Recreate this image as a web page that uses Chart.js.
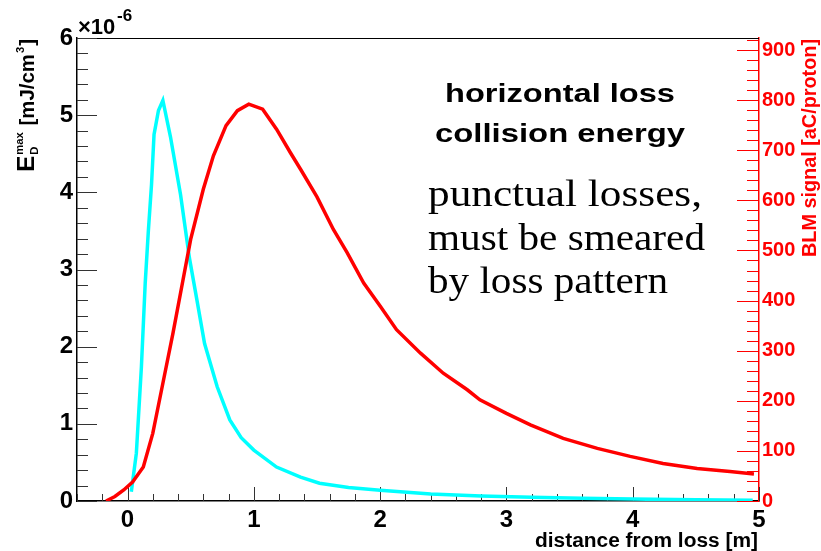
<!DOCTYPE html>
<html>
<head>
<meta charset="utf-8">
<script src="https://cdn.jsdelivr.net/npm/chart.js@4.4.0/dist/chart.umd.min.js"></script>
<style>
  html, body { margin: 0; padding: 0; background: #fff; }
  #wrap { width: 821px; height: 551px; }
</style>
</head>
<body>
<div id="wrap"><canvas id="c" width="821" height="551"></canvas></div>
<script>
// energy deposition (left axis, x 1e-6 mJ/cm3)
const cyanX = [0.03, 0.07, 0.11, 0.14, 0.165, 0.19, 0.21, 0.245, 0.28, 0.34, 0.42, 0.49, 0.55, 0.61, 0.71, 0.81, 0.9, 1.0, 1.18, 1.37, 1.52, 1.75, 2.0, 2.4, 2.8, 3.2, 3.6, 4.0, 4.5, 4.95];
const cyanY = [0.12, 0.62, 1.74, 2.82, 3.5, 4.1, 4.75, 5.06, 5.19, 4.72, 3.97, 3.15, 2.6, 2.04, 1.48, 1.05, 0.82, 0.66, 0.44, 0.31, 0.23, 0.175, 0.14, 0.09, 0.065, 0.05, 0.035, 0.025, 0.015, 0.01];
// BLM signal (right axis, aC/proton)
const redX = [-0.17, -0.1, -0.03, 0.04, 0.125, 0.2, 0.28, 0.36, 0.44, 0.5, 0.6, 0.68, 0.78, 0.87, 0.96, 1.07, 1.18, 1.29, 1.37, 1.5, 1.63, 1.74, 1.87, 2.0, 2.13, 2.32, 2.5, 2.69, 2.79, 3.0, 3.19, 3.45, 3.72, 3.98, 4.24, 4.51, 4.77, 4.96];
const redY = [0, 9, 22, 38, 68, 135, 235, 335, 442, 522, 622, 689, 749, 779, 792, 782, 742, 695, 662, 607, 542, 495, 435, 389, 342, 295, 255, 222, 202, 175, 152, 125, 105, 89, 75, 65, 59, 54];

const xTicks = [0, 1, 2, 3, 4, 5];
const leftTicks = [0, 1, 2, 3, 4, 5, 6];
const rightTicks = [0, 100, 200, 300, 400, 500, 600, 700, 800, 900];

const SANS = '"Liberation Sans", Arial, sans-serif';
const SERIF = '"Liberation Serif", "Times New Roman", serif';

function pts(xs, ys) {
  return xs.map((x, i) => ({ x: x, y: ys[i] }));
}

function fitText(ctx, txt, font, x, y, w, align) {
  ctx.save();
  ctx.font = font;
  const m = ctx.measureText(txt).width;
  ctx.translate(x, y);
  ctx.scale(w / m, 1);
  ctx.textAlign = align;
  ctx.textBaseline = 'alphabetic';
  ctx.fillText(txt, 0, 0);
  ctx.restore();
}

// inward tick marks, drawn from the scales
const tickMarks = {
  id: 'tickMarks',
  beforeDatasetsDraw(chart) {
    const ctx = chart.ctx;
    const a = chart.chartArea;
    const sx = chart.scales.x, sy = chart.scales.y, sr = chart.scales.y2;
    ctx.save();
    ctx.lineWidth = 1;
    // top frame
    ctx.strokeStyle = '#000';
    ctx.beginPath();
    ctx.moveTo(a.left, a.top + 0.5);
    ctx.lineTo(a.right, a.top + 0.5);
    ctx.stroke();

    ctx.strokeStyle = '#333';
    ctx.beginPath();
    for (let i = 0; i <= 30; i++) {
      const py = Math.round(sy.getPixelForValue(i * 0.2)) + 0.5;
      const len = i % 5 === 0 ? 20 : 11;
      ctx.moveTo(a.left, py);
      ctx.lineTo(a.left + len, py);
    }
    for (let i = -2; i <= 25; i++) {
      const px = Math.round(sx.getPixelForValue(i * 0.2)) + 0.5;
      const len = i % 5 === 0 ? 14 : 7;
      ctx.moveTo(px, a.bottom);
      ctx.lineTo(px, a.bottom - len);
    }
    ctx.stroke();

    ctx.strokeStyle = '#ff0000';
    ctx.beginPath();
    for (let i = 0; i <= 46; i++) {
      const py = Math.round(sr.getPixelForValue(i * 20)) + 0.5;
      const len = i % 5 === 0 ? 22 : 12;
      ctx.moveTo(a.right, py);
      ctx.lineTo(a.right - len, py);
    }
    ctx.stroke();
    ctx.restore();
  },
  afterDraw(chart) {
    const ctx = chart.ctx;
    ctx.save();
    ctx.fillStyle = '#000';

    // exponent
    ctx.font = 'bold 22px ' + SANS;
    ctx.textAlign = 'left';
    ctx.textBaseline = 'alphabetic';
    ctx.fillText('\u00d710', 78, 34);
    ctx.font = 'bold 17px ' + SANS;
    ctx.fillText('-6', 117, 21);

    // left axis title, rotated
    const runs = [
      { t: 'E', f: 'bold 24px ' + SANS, dy: 0 },
      { t: 'max', f: 'bold 11px ' + SANS, dy: -11, s: 'D', sdy: 4 },
      { t: ' [mJ/cm', f: 'bold 20px ' + SANS, dy: 0 },
      { t: '3', f: 'bold 11px ' + SANS, dy: -10 },
      { t: ']', f: 'bold 20px ' + SANS, dy: 0 }
    ];
    let total = 0;
    runs.forEach(r => {
      ctx.font = r.f;
      let w = ctx.measureText(r.t).width;
      if (r.s) w = Math.max(w, ctx.measureText(r.s).width);
      r.w = w;
      total += w + 1;
    });
    ctx.save();
    ctx.translate(34, 172);
    ctx.rotate(-Math.PI / 2);
    ctx.scale(134 / total, 1);
    let cx = 0;
    runs.forEach(r => {
      ctx.font = r.f;
      ctx.fillText(r.t, cx, r.dy);
      if (r.s) ctx.fillText(r.s, cx, r.sdy);
      cx += r.w + 1;
    });
    ctx.restore();

    // right axis title
    ctx.save();
    ctx.fillStyle = '#ff0000';
    ctx.translate(816, 257);
    ctx.rotate(-Math.PI / 2);
    fitText(ctx, 'BLM signal [aC/proton]', 'bold 20px ' + SANS, 0, 0, 218, 'left');
    ctx.restore();

    // x axis title
    fitText(ctx, 'distance from loss [m]', 'bold 20px ' + SANS, 758, 547, 223, 'right');

    // annotations
    fitText(ctx, 'horizontal loss', 'bold 26px ' + SANS, 560, 102, 230, 'center');
    fitText(ctx, 'collision energy', 'bold 26px ' + SANS, 560, 142, 250, 'center');
    fitText(ctx, 'punctual losses,', '38px ' + SERIF, 428, 206, 274, 'left');
    fitText(ctx, 'must be smeared', '38px ' + SERIF, 428, 250, 277, 'left');
    fitText(ctx, 'by loss pattern', '38px ' + SERIF, 428, 293, 240, 'left');
    ctx.restore();
  }
};

new Chart(document.getElementById('c'), {
  type: 'scatter',
  data: {
    datasets: [
      {
        label: 'BLM signal',
        data: pts(redX, redY),
        yAxisID: 'y2',
        showLine: true,
        borderColor: '#ff0000',
        borderWidth: 3.5,
        pointRadius: 0,
        tension: 0
      },
      {
        label: 'E_D max',
        data: pts(cyanX, cyanY),
        yAxisID: 'y',
        showLine: true,
        borderColor: '#00ffff',
        borderWidth: 3.5,
        pointRadius: 0,
        tension: 0
      }
    ]
  },
  options: {
    responsive: false,
    animation: false,
    devicePixelRatio: 1,
    layout: { padding: { top: 38, left: 0, right: 0, bottom: 0 } },
    plugins: { legend: { display: false }, tooltip: { enabled: false } },
    scales: {
      x: {
        type: 'linear',
        min: -0.4,
        max: 5,
        afterFit(s) { s.height = 50; },
        afterBuildTicks(s) { s.ticks = xTicks.map(v => ({ value: v })); },
        grid: { display: false, drawTicks: false },
        border: { display: true, color: '#000', width: 1.5 },
        ticks: { color: '#000', padding: 5, font: { family: SANS, size: 24, weight: 'bold' } }
      },
      y: {
        position: 'left',
        min: 0,
        max: 6,
        afterFit(s) { s.width = 77; },
        afterBuildTicks(s) { s.ticks = leftTicks.map(v => ({ value: v })); },
        grid: { display: false, drawTicks: false },
        border: { display: true, color: '#000', width: 1.5 },
        ticks: { color: '#000', padding: 4, font: { family: SANS, size: 24, weight: 'bold' } }
      },
      y2: {
        position: 'right',
        min: 0,
        max: 924,
        afterFit(s) { s.width = 62; },
        afterBuildTicks(s) { s.ticks = rightTicks.map(v => ({ value: v })); },
        grid: { display: false, drawTicks: false },
        border: { display: true, color: '#ff0000', width: 1.5 },
        ticks: { color: '#ff0000', padding: 3, font: { family: SANS, size: 20, weight: 'bold' } }
      }
    }
  },
  plugins: [tickMarks]
});
</script>
</body>
</html>
